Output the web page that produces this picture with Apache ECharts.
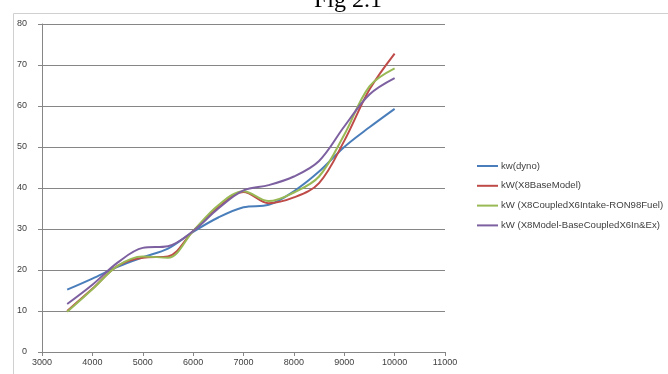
<!DOCTYPE html>
<html>
<head>
<meta charset="utf-8">
<script src="https://cdn.jsdelivr.net/npm/echarts@6/dist/echarts.min.js"></script>
<style>
  html, body { margin: 0; padding: 0; background: #ffffff; }
  #chart { width: 668px; height: 374px; }
</style>
</head>
<body>
<div id="chart"></div>
<script>
// Engine speed (rpm) sampled for every curve
const rpm = [3500, 4000, 4500, 5000, 5500, 6000, 6500, 7000, 7500, 8000, 8500, 9000, 9500, 10000];

// Power curves (kW)
const kwDyno        = [15.2, 17.9, 20.8, 23.1, 25.2, 29.3, 32.8, 35.3, 35.9, 39.2, 44.0, 50.0, 54.8, 59.3];
const kwBaseModel   = [10.0, 15.4, 21.0, 23.0, 23.3, 29.5, 35.3, 39.0, 36.3, 37.7, 41.2, 51.5, 64.0, 72.8];
const kwCoupledRon  = [9.8, 15.3, 21.0, 23.3, 23.0, 29.5, 35.8, 39.2, 36.8, 38.9, 42.8, 53.0, 64.8, 69.2];
const kwCoupledInEx = [11.7, 16.4, 21.8, 25.4, 25.8, 29.5, 35.0, 39.4, 40.7, 42.8, 46.6, 55.0, 62.8, 66.8];

const seriesNames = [
  'kw(dyno)',
  'kW(X8BaseModel)',
  'kW (X8CoupledX6Intake-RON98Fuel)',
  'kW (X8Model-BaseCoupledX6In&Ex)'
];
const seriesValues = [kwDyno, kwBaseModel, kwCoupledRon, kwCoupledInEx];
const seriesColors = ['#4A7EBB', '#BE4B48', '#98B954', '#7D60A0'];

const figTitle = 'Fig 2.1';

const chart = echarts.init(document.getElementById('chart'), null, { renderer: 'canvas' });

const axisGray = '#868686';
const textColor = '#404040';
const uiFont = 'Liberation Sans';

chart.setOption({
  animation: false,
  backgroundColor: '#ffffff',
  graphic: [
    {
      type: 'polyline',
      shape: { points: [[13.5, 380], [13.5, 13.5], [680, 13.5]] },
      style: { stroke: '#d0d0d0', fill: null, lineWidth: 1 },
      silent: true
    },
    {
      type: 'text',
      style: {
        text: figTitle,
        x: 348, y: 1,
        align: 'center', verticalAlign: 'middle',
        font: '24px "Liberation Serif"',
        fill: '#000000'
      },
      silent: true
    }
  ],
  legend: {
    orient: 'vertical',
    left: 472,
    top: 156,
    itemWidth: 21,
    itemHeight: 2,
    itemGap: 9.8,
    icon: 'rect',
    textStyle: { fontFamily: uiFont, fontSize: 9.6, color: textColor, padding: [0, 0, 0, -2] },
    data: seriesNames
  },
  grid: {
    left: 42,
    right: 223,
    top: 24,
    bottom: 22,
    containLabel: false
  },
  xAxis: {
    type: 'value',
    min: 3000,
    max: 11000,
    interval: 1000,
    axisLine: { show: true, onZero: false, lineStyle: { color: axisGray, width: 1 } },
    axisTick: { show: true, inside: false, length: 4, lineStyle: { color: axisGray } },
    axisLabel: { fontFamily: uiFont, fontSize: 9, color: textColor, margin: 6, formatter: v => String(v) },
    splitLine: { show: false }
  },
  yAxis: {
    type: 'value',
    min: 0,
    max: 80,
    interval: 10,
    axisLine: { show: true, lineStyle: { color: axisGray, width: 1 } },
    axisTick: { show: true, inside: false, length: 4, lineStyle: { color: axisGray } },
    axisLabel: { fontFamily: uiFont, fontSize: 9, color: textColor, margin: 15, formatter: v => String(v) },
    splitLine: { show: true, lineStyle: { color: axisGray, width: 1 } }
  },
  series: seriesNames.map((name, i) => ({
    name: name,
    type: 'line',
    smooth: 0.35,
    symbol: 'none',
    lineStyle: { width: 2, color: seriesColors[i] },
    itemStyle: { color: seriesColors[i] },
    data: rpm.map((r, j) => [r, seriesValues[i][j]])
  }))
});
</script>
</body>
</html>
